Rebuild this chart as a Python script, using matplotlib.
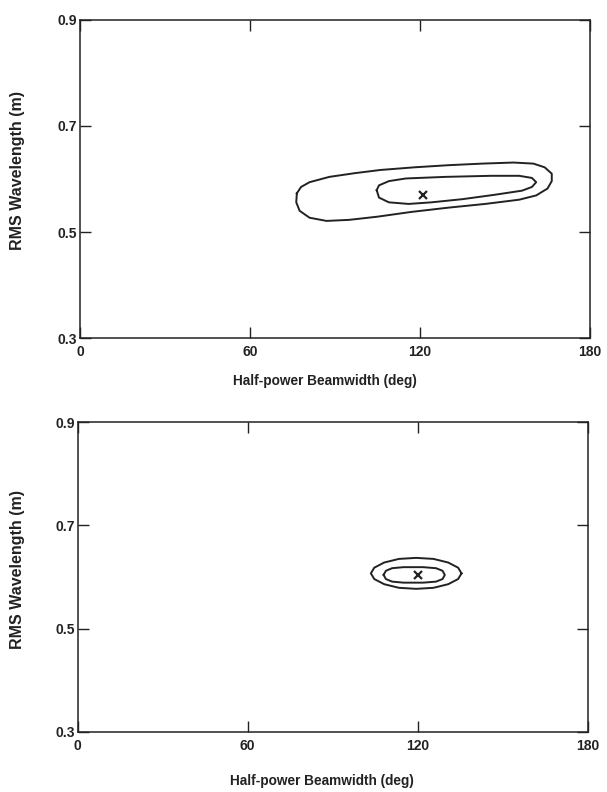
import matplotlib.pyplot as plt

# contour traces (beamwidth deg, wavelength m)
top_outer_x = [76.5, 78, 81, 88, 97, 106, 118, 130, 142, 153, 160, 164, 166.5, 166.5,
               165, 161, 155, 143, 130, 117, 105, 95, 87, 81, 77.5, 76.3]
top_outer_y = [0.573, 0.585, 0.594, 0.604, 0.611, 0.617, 0.622, 0.626, 0.629, 0.631, 0.629,
               0.622, 0.610, 0.596, 0.582, 0.569, 0.561, 0.553, 0.546, 0.538, 0.529, 0.523,
               0.521, 0.527, 0.540, 0.556]
top_inner_x = [104.7, 105.5, 109, 115, 129, 145, 155, 159.5, 161, 159.5, 156, 146, 135,
               124, 116, 109, 105.5]
top_inner_y = [0.579, 0.588, 0.596, 0.601, 0.604, 0.606, 0.606, 0.602, 0.594, 0.585, 0.578,
               0.570, 0.562, 0.556, 0.553, 0.556, 0.565]
top_best = (121, 0.570)

bot_outer_x = [135.5, 134.3, 130.8, 125.6, 119.5, 113.4, 108.2, 104.7, 103.5, 104.7, 108.2,
               113.4, 119.5, 125.6, 130.8, 134.3]
bot_outer_y = [0.607, 0.618, 0.628, 0.635, 0.637, 0.635, 0.628, 0.618, 0.607, 0.596, 0.586,
               0.579, 0.577, 0.579, 0.586, 0.596]
bot_inner_x = [108, 108.8, 111, 115, 122, 126.5, 128.8, 129.6, 128.8, 126.5, 122, 115, 111, 108.8]
bot_inner_y = [0.604, 0.612, 0.617, 0.619, 0.619, 0.617, 0.612, 0.604, 0.596, 0.591, 0.589,
               0.589, 0.591, 0.596]
bot_best = (120, 0.604)

x_ticks = [0, 60, 120, 180]
y_ticks = [0.3, 0.5, 0.7, 0.9]

plt.rcParams['font.family'] = ['Liberation Sans', 'DejaVu Sans']
plt.rcParams['font.weight'] = 'bold'
ink = '#222222'

fig = plt.figure(figsize=(6.07, 7.92), dpi=100)
ax1 = fig.add_axes([0.132, 0.573, 0.840, 0.402])
ax2 = fig.add_axes([0.128, 0.076, 0.840, 0.391])


def closed(xs, ys):
    return list(xs) + [xs[0]], list(ys) + [ys[0]]


# (axes, contours, best point, xlabel pos, ylabel pos) in axes coords
panels = [
    (ax1, [(top_outer_x, top_outer_y), (top_inner_x, top_inner_y)], top_best,
     (0.48, -0.113), (-0.108, 0.528)),
    (ax2, [(bot_outer_x, bot_outer_y), (bot_inner_x, bot_inner_y)], bot_best,
     (0.478, -0.135), (-0.104, 0.523)),
]

for ax, contours, best, xl_pos, yl_pos in panels:
    for xs, ys in contours:
        cx, cy = closed(xs, ys)
        ax.plot(cx, cy, color=ink, lw=1.4, solid_joinstyle='round')
    ax.plot(best[0], best[1], marker='x', color=ink, ms=6, mew=1.6, ls='none')
    ax.set_xlim(0, 180)
    ax.set_ylim(0.3, 0.9)
    ax.set_xticks(x_ticks)
    ax.set_yticks(y_ticks)
    ax.set_xticklabels([str(v) for v in x_ticks])
    ax.set_yticklabels([f'{v:.1f}' for v in y_ticks])
    ax.tick_params(direction='in', length=8, width=1, top=True, right=True,
                   labelsize=10, colors=ink)
    ax.tick_params(axis='x', pad=5)
    ax.tick_params(axis='y', pad=2)
    for sp in ax.spines.values():
        sp.set_linewidth(1.1)
        sp.set_color(ink)
    ax.set_xlabel('Half-power Beamwidth (deg)', fontsize=9.8, fontweight='bold', color=ink)
    ax.set_ylabel('RMS Wavelength (m)', fontsize=11.5, fontweight='bold', color=ink)
    ax.xaxis.set_label_coords(*xl_pos)
    ax.yaxis.set_label_coords(*yl_pos)

fig.savefig('out.png', dpi=100)
